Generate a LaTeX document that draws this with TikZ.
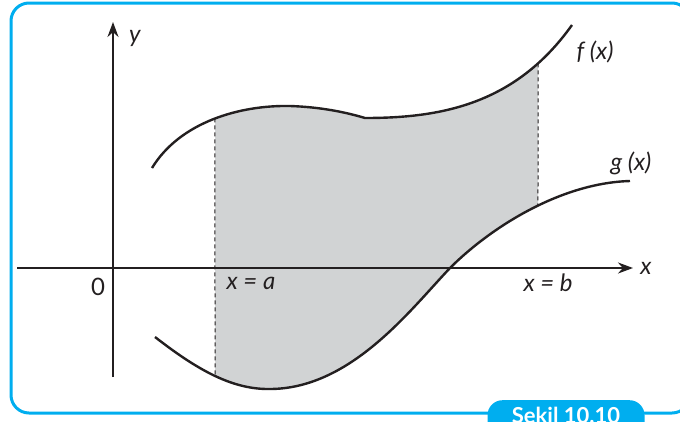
\documentclass[tikz,border=0pt]{standalone}
\usepackage{fontspec}
\setmainfont{Lato}
\usetikzlibrary{positioning,arrows.meta,intersections}
\definecolor{framecyan}{RGB}{0,174,239}
\definecolor{areagray}{RGB}{209,211,212}
\definecolor{inkdark}{RGB}{35,31,32}
\newcommand{\fcurve}{(152,168) .. controls (180,122) and (240,105) .. (290,106) .. controls (320,107) and (345,112) .. (365,118) .. controls (440,118) and (515,105) .. (572,25)}
\newcommand{\gcurve}{(155,337) .. controls (195,368) and (230,389) .. (268,389) .. controls (350,390) and (410,310) .. (450,268) .. controls (490,228) and (560,183) .. (630,181)}

\begin{document}
\begin{tikzpicture}[x=1pt,y=-1pt,
  curve/.style={draw=inkdark,line width=2.4pt},
  axis/.style={draw=inkdark,line width=2pt,-{Stealth[length=15pt,width=11pt]}},
  guide/.style={draw=inkdark,line width=1pt,dash pattern=on 4pt off 3pt},
  lbl/.style={text=inkdark,font=\fontsize{24}{28}\selectfont\itshape,inner sep=0pt},
  tab/.style={fill=framecyan,text=white,rounded corners=15pt,font=\fontsize{22}{26}\selectfont\bfseries,
    minimum width=157pt,inner ysep=7pt,text height=16pt,text depth=20pt}]
\useasboundingbox (0,0) rectangle (680,421);
\draw[framecyan,line width=3pt,rounded corners=18pt] (11,3) rectangle (690,413);

\begin{scope}
\clip (215,0) rectangle (538,421);
\clip \fcurve -- (700,421) -- (0,421) -- cycle;
\fill[areagray] \gcurve -- (700,0) -- (0,0) -- cycle;
\end{scope}

\path[name path=fpath] \fcurve;
\path[name path=gpath] \gcurve;
\path[name path=linea] (215,0) -- (215,421);
\path[name path=lineb] (538,0) -- (538,421);
\path[name intersections={of=fpath and linea,by=fa}];
\path[name intersections={of=gpath and linea,by=ga}];
\path[name intersections={of=fpath and lineb,by=fb}];
\path[name intersections={of=gpath and lineb,by=gb}];
\draw[guide] (fa) -- (ga);
\draw[guide] (fb) -- (gb);

\coordinate (xstart) at (17,268);
\coordinate (xend) at (633,268);
\coordinate (ystart) at (113,377);
\coordinate (yend) at (113,22);
\draw[axis] (xstart) -- (xend);
\draw[axis] (ystart) -- (yend);

\draw[curve] \fcurve;
\draw[curve] \gcurve;

\node[lbl] (ylabel) at (135,38) {y};
\node[lbl] (xlabel) at (646,268) {x};
\node[lbl,font=\fontsize{24}{28}\selectfont] (origin) at (98,287) {0};
\node[lbl] (alabel) at (251,283) {x = a};
\node[lbl] (blabel) at (548,283) {x = b};
\node[lbl] (flabel) at (595,52) {f (x)};
\node[lbl] (glabel) at (631,163) {g (x)};

\node[tab,anchor=north] (figtag) at (566,400) {Şekil 10.10};
\end{tikzpicture}
\end{document}
